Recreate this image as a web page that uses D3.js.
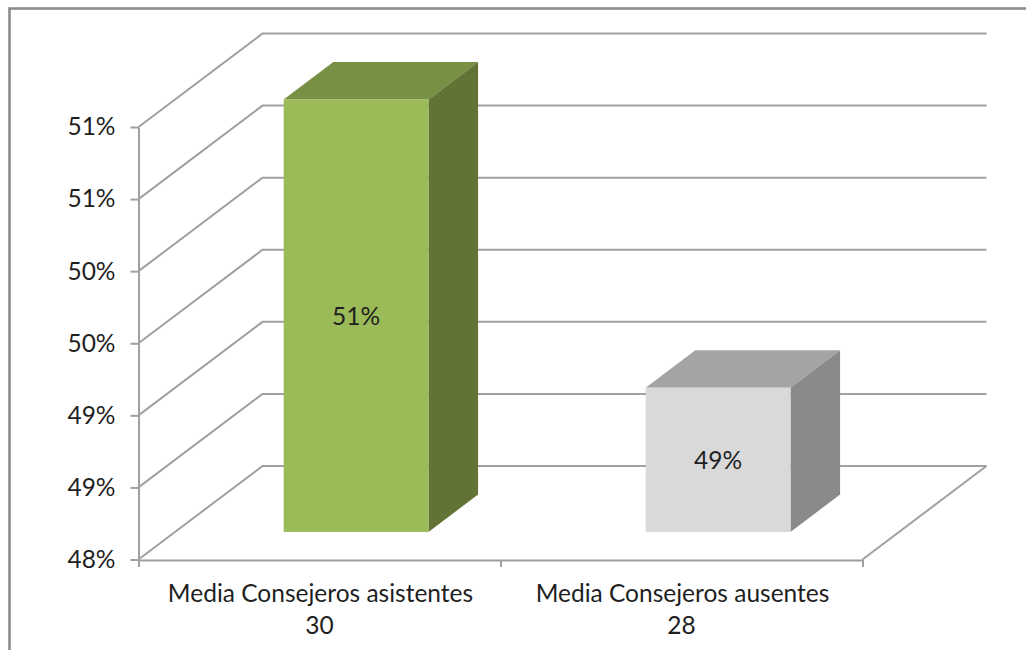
<!DOCTYPE html>
<html>
<head>
<meta charset="utf-8">
<script src="https://cdn.jsdelivr.net/npm/d3@7"></script>
<style>
  html, body { margin: 0; padding: 0; background: #fff; overflow: hidden; }
  text { font-family: Lato, "Open Sans", sans-serif; fill: #1f1f1f; }
</style>
</head>
<body>
<svg id="chart" width="1026" height="650"></svg>
<script>
const categories = ["Media Consejeros asistentes", "Media Consejeros ausentes"];
const counts = ["30", "28"];
const values = [51, 49];
const valueLabels = ["51%", "49%"];
const yTicks = [48, 48.5, 49, 49.5, 50, 50.5, 51];
const yTickLabels = ["48%", "49%", "49%", "50%", "50%", "51%", "51%"];
const frontColors = ["#9bbb59", "#d9d9d9"];
const topColors = ["#779043", "#a4a4a4"];
const sideColors = ["#627435", "#8a8a8a"];

const gridColor = "#a0a0a0";
const fontSize = 24.5;

const svg = d3.select("#chart");

// chart frame, runs off the bottom of the picture
svg.append("rect")
  .attr("x", 9.5).attr("y", 8.5)
  .attr("width", 1040).attr("height", 700)
  .attr("fill", "#fff")
  .attr("stroke", "#8c8c8c")
  .attr("stroke-width", 2.6);

const x = d3.scaleBand()
  .domain(categories)
  .range([138.5, 862.5])
  .paddingInner(0.6)
  .paddingOuter(0.3);

const y = d3.scaleLinear()
  .domain([48, 51])
  .range([559.5, 127]);

// depth goes from the front of the floor (0) to the back wall (1)
const depthX = d3.scaleLinear().domain([0, 1]).range([0, 124]);
const depthY = d3.scaleLinear().domain([0, 1]).range([0, -93.5]);
const barFront = 0.295;
const barBack = 0.695;

// walls: each gridline goes along the side wall, then across the back wall
svg.append("g")
  .selectAll("path")
  .data(yTicks)
  .join("path")
  .attr("fill", "none")
  .attr("stroke", gridColor)
  .attr("stroke-width", 2)
  .attr("d", d => d3.line()([
    [x.range()[0], y(d)],
    [x.range()[0] + depthX(1), y(d) + depthY(1)],
    [x.range()[1] + depthX(1), y(d) + depthY(1)]
  ]));

// right edge of the floor
svg.append("path")
  .attr("fill", "none")
  .attr("stroke", gridColor)
  .attr("stroke-width", 2)
  .attr("d", d3.line()([
    [x.range()[1], y(48)],
    [x.range()[1] + depthX(1), y(48) + depthY(1)]
  ]));

// y axis
const yAxis = svg.append("g")
  .attr("transform", `translate(${x.range()[0]},0)`)
  .call(d3.axisLeft(y)
    .tickValues(yTicks)
    .tickFormat((d, i) => yTickLabels[i])
    .tickSize(8)
    .tickSizeOuter(0)
    .tickPadding(15));
yAxis.selectAll("path, line").attr("stroke", gridColor).attr("stroke-width", 2);
yAxis.selectAll("text").attr("font-size", fontSize).attr("fill", "#1f1f1f").attr("font-family", "Lato");

// x axis: ticks sit on the category boundaries
const xEdges = d3.scalePoint().domain([0, 1, 2]).range(x.range());
const xAxis = svg.append("g")
  .attr("transform", `translate(0,${y(48) + 0.5})`)
  .call(d3.axisBottom(xEdges).tickSize(7).tickSizeOuter(0).tickFormat(""));
xAxis.selectAll("path, line").attr("stroke", gridColor).attr("stroke-width", 2);

// bars
const bars = svg.append("g")
  .selectAll("g")
  .data(values)
  .join("g");

const barLeft = (d, i) => x(categories[i]) + depthX(barFront);
const barRight = (d, i) => barLeft(d, i) + x.bandwidth();
const barTop = d => y(d) + depthY(barFront);
const barBase = d => y(48) + depthY(barFront);
const backX = depthX(barBack - barFront);
const backY = depthY(barBack - barFront);

bars.append("path") // top face
  .attr("fill", (d, i) => topColors[i])
  .attr("d", (d, i) => d3.line()([
    [barLeft(d, i), barTop(d)],
    [barRight(d, i), barTop(d)],
    [barRight(d, i) + backX, barTop(d) + backY],
    [barLeft(d, i) + backX, barTop(d) + backY]
  ]) + "Z");

bars.append("path") // side face
  .attr("fill", (d, i) => sideColors[i])
  .attr("d", (d, i) => d3.line()([
    [barRight(d, i), barTop(d)],
    [barRight(d, i) + backX, barTop(d) + backY],
    [barRight(d, i) + backX, barBase(d) + backY],
    [barRight(d, i), barBase(d)]
  ]) + "Z");

bars.append("rect") // front face
  .attr("x", barLeft)
  .attr("y", barTop)
  .attr("width", x.bandwidth())
  .attr("height", d => barBase(d) - barTop(d))
  .attr("fill", (d, i) => frontColors[i]);

bars.append("text")
  .attr("x", (d, i) => barLeft(d, i) + x.bandwidth() / 2)
  .attr("y", d => (barTop(d) + barBase(d)) / 2 + 1)
  .attr("dy", "0.35em")
  .attr("text-anchor", "middle")
  .attr("font-size", fontSize)
  .text((d, i) => valueLabels[i]);

// category labels, two lines each
const labels = svg.append("g")
  .selectAll("text")
  .data(categories)
  .join("text")
  .attr("text-anchor", "middle")
  .attr("font-size", fontSize);

labels.append("tspan")
  .attr("x", d => x(d) + x.bandwidth() / 2 + 1)
  .attr("y", 602)
  .text(d => d);

labels.append("tspan")
  .attr("x", d => x(d) + x.bandwidth() / 2)
  .attr("y", 634)
  .text((d, i) => counts[i]);
</script>
</body>
</html>
